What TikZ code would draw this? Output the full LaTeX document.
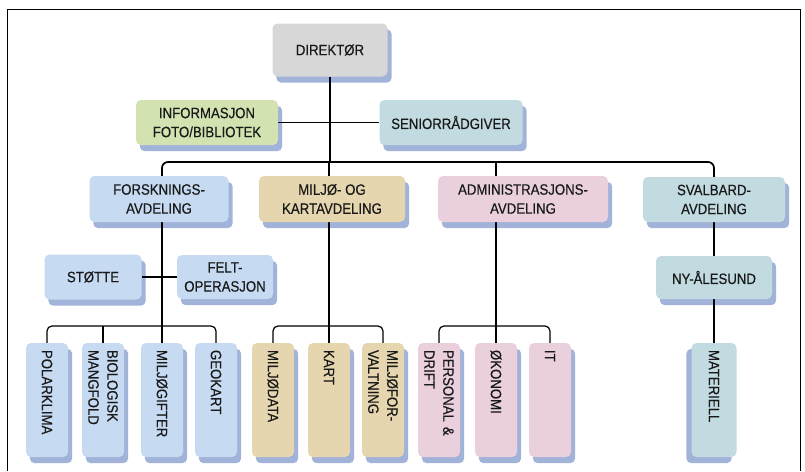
\documentclass[tikz,border=0pt]{standalone}
\usepackage{fontspec}
\setmainfont{Liberation Sans}[FakeStretch=0.88, FakeBold=0.4]
\usetikzlibrary{calc}
\pgfdeclarelayer{shade}
\pgfdeclarelayer{wires}
\pgfsetlayers{shade,wires,main}
\definecolor{dirgray}{HTML}{D7D7D7}
\definecolor{infogreen}{HTML}{D3E2B1}
\definecolor{svalteal}{HTML}{C1DBE1}
\definecolor{forskblue}{HTML}{C6DAF2}
\definecolor{miljotan}{HTML}{E6D6AF}
\definecolor{adminpink}{HTML}{E9D0DC}
\definecolor{shadowblue}{HTML}{A2B3D9}
\tikzset{
	unit/.style={rectangle, rounded corners=5pt, inner sep=2pt, align=center, text=black!90, font=\fontsize{15}{19}\selectfont},
	leaf/.style={unit, rotate=-90, minimum width=114pt, minimum height=42pt, text width=100pt, align=left, inner xsep=7pt},
	trunk/.style={line width=1.7pt, rounded corners=6pt},
	branch/.style={line width=1.2pt, rounded corners=5pt},
}

\begin{document}
\begin{tikzpicture}[x=1pt, y=-1pt]
	\useasboundingbox (0,0) rectangle (805,471);
	\draw[line width=0.9pt] (7,471) -- (7,9) -- (800,9) -- (800,471);
	\coordinate (bus) at (0,162);
	\coordinate (sub) at (0,326);
	% top
	\node[unit, fill=dirgray, minimum width=115pt, minimum height=53pt] (dir) at (330,50) {DIREKTØR};
	\node[unit, fill=infogreen, minimum width=142pt, minimum height=45pt] (info) at (207,122.5) {INFORMASJON\\FOTO/BIBLIOTEK};
	\node[unit, fill=svalteal, minimum width=143pt, minimum height=45pt] (senior) at (451,122.5) {SENIORRÅDGIVER};
	% avdelinger
	\node[unit, fill=forskblue, minimum width=139pt, minimum height=46pt] (forsk) at (159,199) {FORSKNINGS-\\AVDELING};
	\node[unit, fill=miljotan, minimum width=146pt, minimum height=46pt] (miljo) at (332,199) {MILJØ- OG\\KARTAVDELING};
	\node[unit, fill=adminpink, minimum width=170pt, minimum height=46pt] (admin) at (523,199) {ADMINISTRASJONS-\\AVDELING};
	\node[unit, fill=svalteal, minimum width=142pt, minimum height=45pt] (svalb) at (714,199.5) {SVALBARD-\\AVDELING};
	\node[unit, fill=forskblue, minimum width=97pt, minimum height=45pt] (stotte) at (93,277) {STØTTE};
	\node[unit, fill=forskblue, minimum width=96pt, minimum height=44pt] (felt) at (225,277) {FELT-\\OPERASJON};
	\node[unit, fill=svalteal, minimum width=116pt, minimum height=43pt] (nyal) at (714,277.5) {NY-ÅLESUND};
	% seksjoner
	\node[leaf, fill=forskblue] (polar) at (47,400) {POLARKLIMA};
	\node[leaf, fill=forskblue] (bio) at (103,400) {BIOLOGISK\\MANGFOLD};
	\node[leaf, fill=forskblue] (mgift) at (162,400) {MILJØGIFTER};
	\node[leaf, fill=forskblue] (geo) at (216,400) {GEOKART};
	\node[leaf, fill=miljotan] (mdata) at (273,400) {MILJØDATA};
	\node[leaf, fill=miljotan] (kart) at (329,400) {KART};
	\node[leaf, fill=miljotan] (mforv) at (383,400) {MILJØFOR-\\VALTNING};
	\node[leaf, fill=adminpink] (pers) at (439,400) {PERSONAL \&\\DRIFT};
	\node[leaf, fill=adminpink] (okon) at (496,400) {ØKONOMI};
	\node[leaf, fill=adminpink] (it) at (550,400) {IT};
	\node[leaf, fill=svalteal, minimum height=45pt] (mat) at (714,400) {MATERIELL};
	% shadows
	\begin{pgfonlayer}{shade}
		\foreach \n in {dir,info,senior,forsk,miljo,admin,svalb,stotte,felt,nyal,polar,bio,mgift,geo,mdata,kart,mforv,pers,okon,it}
			\fill[shadowblue, rounded corners=5pt] ([shift={(4,6)}]\n.south west) rectangle ([shift={(4,6)}]\n.north east);
		\fill[shadowblue, rounded corners=5pt] ([shift={(-5,6)}]mat.south west) rectangle ([shift={(-5,6)}]mat.north east);
	\end{pgfonlayer}
	% lines
	\begin{pgfonlayer}{wires}
		\draw[trunk] (dir.south) -- (dir.south |- bus);
		\draw[trunk] (info.east) -- (senior.west);
		\draw[trunk] (mgift.west) -- (mgift.west |- bus) -- (svalb.north |- bus) -- (svalb.north);
		\draw[trunk] (kart.west |- bus) -- (kart.west);
		\draw[trunk] (okon.west |- bus) -- (okon.west);
		\draw[trunk] (svalb.south) -- (nyal.north);
		\draw[trunk] (nyal.south) -- (mat.west);
		\draw[branch] (stotte.east) -- (felt.west);
		\draw[branch] (polar.west) -- (polar.west |- sub) -- (geo.west |- sub) -- (geo.west);
		\draw[branch] (bio.west) -- (bio.west |- sub);
		\draw[branch] (mdata.west) -- (mdata.west |- sub) -- (mforv.west |- sub) -- (mforv.west);
		\draw[branch] (pers.west) -- (pers.west |- sub) -- (it.west |- sub) -- (it.west);
	\end{pgfonlayer}
\end{tikzpicture}
\end{document}
